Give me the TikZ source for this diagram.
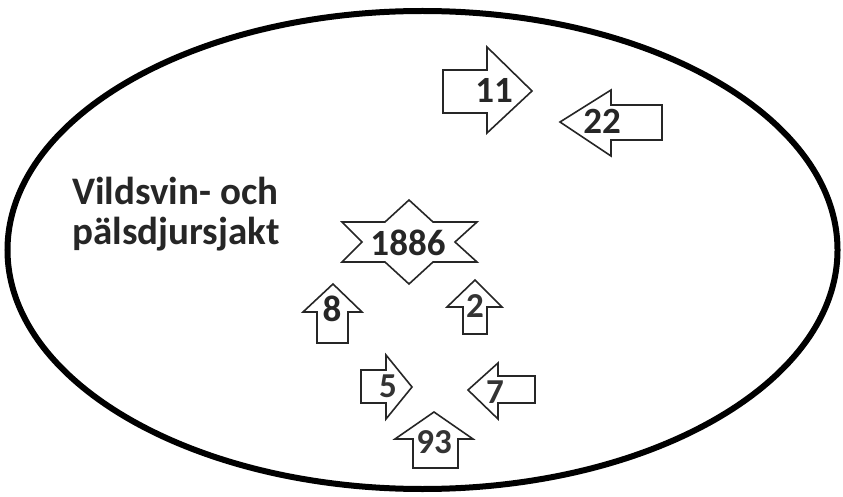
\documentclass[tikz,border=0pt]{standalone}
\usepackage{fontspec}
\setmainfont{Carlito}
\usepackage{xcolor}
\usetikzlibrary{positioning, calc}

\tikzset{
  blockarrow/.style={draw=black!85, line width=1.6pt, fill=white, line join=miter},
  numlabel/.style={inner sep=0pt, font=\fontsize{37}{37}\selectfont\bfseries, text=black!85},
  thinlabel/.style={inner sep=0pt, font=\fontsize{35}{35}\selectfont\bfseries, text=black!80}
}

\begin{document}
\begin{tikzpicture}[x=1pt, y=-1pt]
\useasboundingbox (0,0) rectangle (843,497);

% Outer ring
\draw[line width=6pt] (422.5,250) ellipse [x radius=415pt, y radius=239pt];

% Label
\node[anchor=north west, align=left, inner sep=0pt, text=black!85,
      font=\fontsize{39}{40}\selectfont\bfseries] (title) at (72,177) {Vildsvin- och\\pälsdjursjakt};

% Arrow 11
\draw[blockarrow] (443,70) -- (487,70) -- (487,47) -- (532,91) -- (487,133) -- (487,113) -- (443,113) -- cycle;
\node[numlabel] (n11) at (494,90) {11};

% Arrow 22
\draw[blockarrow] (662,105) -- (611,105) -- (611,90) -- (560,122) -- (611,156) -- (611,140) -- (662,140) -- cycle;
\node[numlabel] (n22) at (602,121) {22};

% Star 1886
\draw[blockarrow] (409,200) -- (433,222) -- (477,222) -- (455,242) -- (477,262) -- (433,262)
  -- (409,284) -- (385,262) -- (342,262) -- (362,242) -- (342,222) -- (385,222) -- cycle;
\node[numlabel] (year) at (408,243) {1886};

% Arrow 8
\draw[blockarrow] (333,284) -- (362,312) -- (348,312) -- (348,343) -- (317,343) -- (317,312) -- (303,312) -- cycle;
\node[numlabel] (n8) at (332,309) {8};

% Arrow 2
\draw[blockarrow] (475,280) -- (502,307) -- (487,307) -- (487,334) -- (463,334) -- (463,307) -- (447,307) -- cycle;
\node[thinlabel] (n2) at (475,306) {2};

% Arrow 5
\draw[blockarrow] (361,370) -- (386,370) -- (386,355) -- (412,387) -- (386,419) -- (386,403) -- (361,403) -- cycle;
\node[thinlabel] (n5) at (388,386) {5};

% Arrow 7
\draw[blockarrow] (535,376) -- (498,376) -- (498,363) -- (468,390) -- (498,419) -- (498,403) -- (535,403) -- cycle;
\node[thinlabel] (n7) at (495,392) {7};

% Arrow 93
\draw[blockarrow] (434,412) -- (473,439) -- (458,439) -- (458,468) -- (413,468) -- (413,439) -- (395,439) -- cycle;
\node[thinlabel] (n93) at (434,442) {93};
\end{tikzpicture}
\end{document}
